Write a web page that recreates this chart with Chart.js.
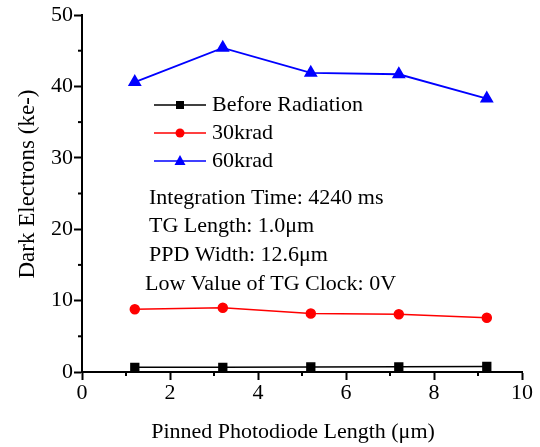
<!DOCTYPE html>
<html>
<head>
<meta charset="utf-8">
<script src="https://cdn.jsdelivr.net/npm/chart.js@4/dist/chart.umd.min.js"></script>
<style>
  html, body { margin: 0; padding: 0; background: #fff; }
  #wrap { width: 540px; height: 447px; position: relative; }
</style>
</head>
<body>
<div id="wrap"><canvas id="chart" width="540" height="447"></canvas></div>
<script>
const ppdLength = [1.2, 3.2, 5.2, 7.2, 9.2];
const seriesNames = ['Before Radiation', '30krad', '60krad'];
const beforeRadiation = [0.65, 0.65, 0.7, 0.72, 0.78];
const krad30 = [8.8, 9.0, 8.2, 8.1, 7.6];
const krad60 = [40.6, 45.4, 41.9, 41.7, 38.3];
const xTitle = 'Pinned Photodiode Length (\u03bcm)';
const yTitle = 'Dark Electrons (ke-)';
const notes = [
  'Integration Time: 4240 ms',
  'TG Length: 1.0\u03bcm',
  'PPD Width: 12.6\u03bcm',
  'Low Value of TG Clock: 0V'
];

const FONT = '"Liberation Serif", "Times New Roman", serif';

function pts(ys) { return ppdLength.map((x, i) => ({ x, y: ys[i] })); }

// minor ticks, axis titles, legend and notes drawn on top of the chart
const extras = {
  id: 'extras',
  afterDraw(chart) {
    const ctx = chart.ctx;
    const xs = chart.scales.x, ys = chart.scales.y;
    ctx.save();
    ctx.strokeStyle = '#000';
    ctx.lineWidth = 2;
    for (let v = 5; v < 50; v += 10) {
      const p = ys.getPixelForValue(v);
      ctx.beginPath(); ctx.moveTo(xs.left - 4, p); ctx.lineTo(xs.left, p); ctx.stroke();
    }
    for (let v = 1; v < 10; v += 2) {
      const p = xs.getPixelForValue(v);
      ctx.beginPath(); ctx.moveTo(p, ys.bottom); ctx.lineTo(p, ys.bottom + 4); ctx.stroke();
    }

    ctx.fillStyle = '#000';
    ctx.textBaseline = 'middle';
    ctx.textAlign = 'center';
    ctx.font = '22px ' + FONT;
    ctx.fillText(xTitle, 293, 432);
    ctx.save();
    ctx.translate(28, 184);
    ctx.rotate(-Math.PI / 2);
    ctx.font = '23px ' + FONT;
    ctx.fillText(yTitle, 0, 0);
    ctx.restore();

    // legend
    ctx.textAlign = 'left';
    ctx.font = '22px ' + FONT;
    chart.data.datasets.forEach((ds, i) => {
      const y = 105 + i * 28;
      ctx.strokeStyle = ds.borderColor;
      ctx.lineWidth = 1.5;
      ctx.beginPath(); ctx.moveTo(154, y); ctx.lineTo(206, y); ctx.stroke();
      ctx.fillStyle = ds.borderColor;
      const cx = 180;
      ctx.beginPath();
      if (ds.pointStyle === 'rect') ctx.rect(cx - 4, y - 4, 8, 8);
      else if (ds.pointStyle === 'circle') ctx.arc(cx, y, 4.5, 0, Math.PI * 2);
      else { ctx.moveTo(cx, y - 6); ctx.lineTo(cx + 5.5, y + 4); ctx.lineTo(cx - 5.5, y + 4); ctx.closePath(); }
      ctx.fill();
      ctx.fillStyle = '#000';
      ctx.fillText(ds.label, 212, y);
    });

    // notes
    const noteX = [149, 149, 149, 145];
    notes.forEach((t, i) => {
      ctx.fillText(t, noteX[i], 198 + i * 28.7);
    });
    ctx.restore();
  }
};

new Chart(document.getElementById('chart'), {
  type: 'line',
  data: {
    datasets: [
      { label: seriesNames[0], data: pts(beforeRadiation), borderColor: '#000', backgroundColor: '#000',
        pointStyle: 'rect', pointRadius: 5.5, borderWidth: 1.5 },
      { label: seriesNames[1], data: pts(krad30), borderColor: '#ff0000', backgroundColor: '#ff0000',
        pointStyle: 'circle', pointRadius: 4.5, borderWidth: 1.5 },
      { label: seriesNames[2], data: pts(krad60), borderColor: '#0000ff', backgroundColor: '#0000ff',
        pointStyle: 'triangle', pointRadius: 6.2, borderWidth: 1.8 }
    ]
  },
  options: {
    responsive: false,
    animation: false,
    devicePixelRatio: 1,
    layout: { padding: { top: 15, right: 18, left: 0, bottom: 0 } },
    plugins: { legend: { display: false }, tooltip: { enabled: false } },
    elements: { line: { tension: 0 }, point: { borderWidth: 0 } },
    scales: {
      x: {
        type: 'linear', min: 0, max: 10,
        ticks: { stepSize: 2, color: '#000', font: { family: FONT, size: 22 }, padding: 0, maxRotation: 0 },
        grid: { display: true, drawOnChartArea: false, drawTicks: true, tickLength: 8, tickColor: '#000', tickWidth: 2 },
        border: { display: true, color: '#000', width: 2 },
        afterFit(s) { s.height = 75; }
      },
      y: {
        min: 0, max: 50,
        ticks: { stepSize: 10, color: '#000', font: { family: FONT, size: 22 }, padding: 1 },
        grid: { display: true, drawOnChartArea: false, drawTicks: true, tickLength: 8, tickColor: '#000', tickWidth: 2 },
        border: { display: true, color: '#000', width: 2 },
        afterFit(s) { s.width = 82; }
      }
    }
  },
  plugins: [extras]
});
</script>
</body>
</html>
